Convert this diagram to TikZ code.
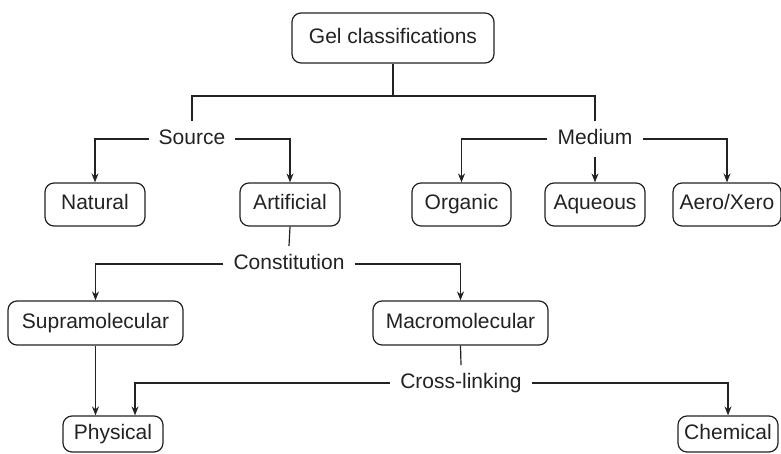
\documentclass[tikz,border=0pt]{standalone}
\usepackage{fontspec}
\setmainfont{Liberation Sans}
\usetikzlibrary{arrows.meta}
\definecolor{ink}{HTML}{222222}
\begin{document}
\begin{tikzpicture}[x=1pt,y=-1pt,
  every node/.style={font=\fontsize{21}{25}\selectfont, text=ink},
  box/.style={draw=ink, line width=1.2pt, rounded corners=9pt, inner sep=0pt,
    minimum height=43pt, text height=15pt, text depth=4.5pt},
  tag/.style={inner xsep=10pt, inner ysep=8pt, text height=15pt, text depth=4.5pt},
  link/.style={draw=ink, line width=1.2pt},
  arr/.style={link, -{Stealth[length=9pt,width=7pt]}}]
\useasboundingbox (0,0) rectangle (781,454);

% boxes
\node[box, minimum width=202pt, minimum height=50pt] (gel) at (393,38) {Gel classifications};
\node[box, minimum width=100pt] (natural) at (95,204.5) {Natural};
\node[box, minimum width=100pt] (artificial) at (290,204.5) {Artificial};
\node[box, minimum width=99pt] (organic) at (461.5,204.5) {Organic};
\node[box, minimum width=100pt] (aqueous) at (595,204.5) {Aqueous};
\node[box, minimum width=108pt] (aero) at (727,204.5) {Aero/Xero};
\node[box, minimum width=175pt, minimum height=44pt] (supra) at (95.5,323) {Supramolecular};
\node[box, minimum width=175pt, minimum height=44pt] (macro) at (460.5,323) {Macromolecular};
\node[box, minimum width=100pt, minimum height=36pt] (physical) at (113,434) {Physical};
\node[box, minimum width=100pt, minimum height=36pt] (chemical) at (728,434) {Chemical};

% category labels
\node[tag] (source) at (192,139) {Source};
\node[tag] (medium) at (595,139) {Medium};
\node[tag] (constitution) at (289,264) {Constitution};
\node[tag] (cross) at (461,383) {Cross-linking};

% connectors
\coordinate (split) at (393,96);
\coordinate (physin) at ([xshift=22pt]physical.north);
\draw[link] (gel.south) -- (split);
\draw[link] (source.north) |- (split) -| (medium.north);

\draw[arr] (source.west) -| (natural.north);
\draw[arr] (source.east) -| (artificial.north);

\draw[arr] (medium.west) -| (organic.north);
\draw[arr] (medium.south) -- (aqueous.north);
\draw[arr] (medium.east) -| (aero.north);

\draw[link] (artificial.south) -- (constitution.north);
\draw[arr] (constitution.west) -| (supra.north);
\draw[arr] (constitution.east) -| (macro.north);

\draw[arr] (supra.south) -- (supra.south |- physical.north);
\draw[link] (macro.south) -- (cross.north);
\draw[arr] (cross.west) -| (physin);
\draw[arr] (cross.east) -| (chemical.north);
\end{tikzpicture}
\end{document}
